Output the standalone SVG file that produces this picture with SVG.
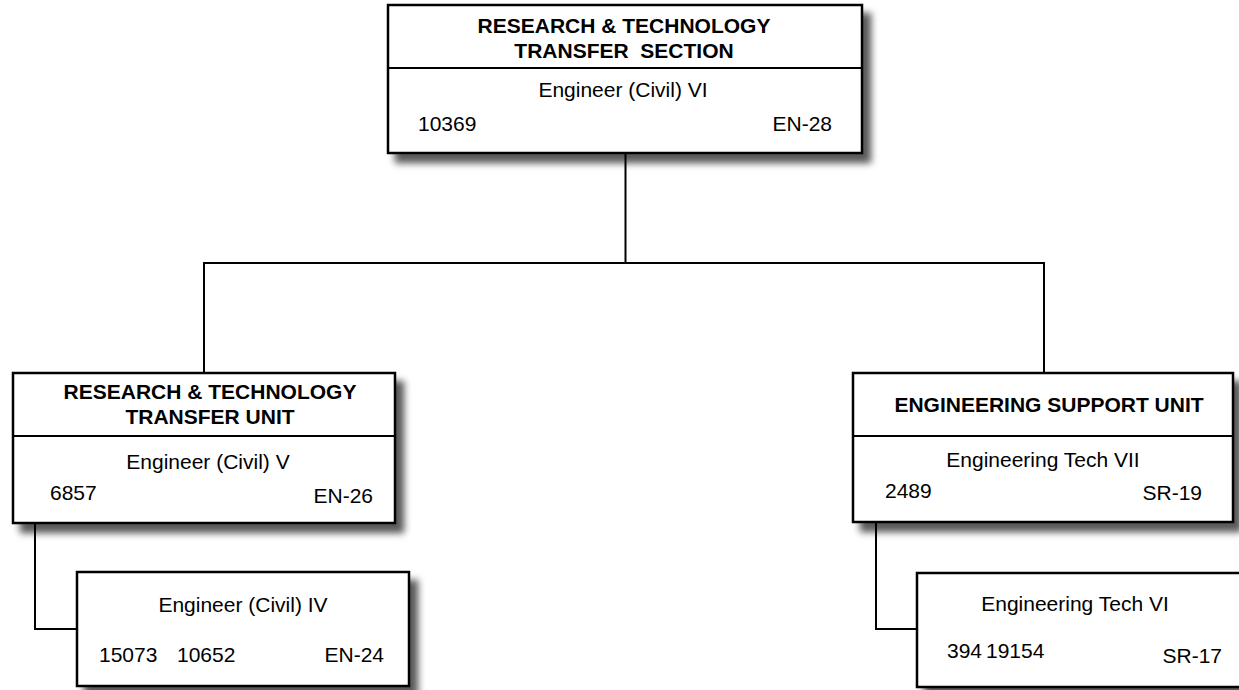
<svg xmlns="http://www.w3.org/2000/svg" width="1239" height="690" viewBox="0 0 1239 690">
<style>
.box{fill:#fff;stroke:#000;stroke-width:2.5;filter:url(#sh)}
.div{stroke:#000;stroke-width:2}
.t{font-family:"Liberation Sans",Arial,sans-serif;font-size:21px;fill:#000}
.b{font-weight:bold;font-size:21px}
.c{text-anchor:middle}
.e{text-anchor:end}
.conn{fill:none;stroke:#000;stroke-width:2}
</style>
<defs>
<filter id="sh" x="-10%" y="-10%" width="130%" height="140%">
<feDropShadow dx="8" dy="9" stdDeviation="3.5" flood-color="#000" flood-opacity="0.65"/>
</filter>
</defs>
<rect width="1239" height="690" fill="#fff"/>
<g id="connectors">
<path class="conn" d="M625.5 153 V263 M204 373 V263 H1044 V373"/>
<path class="conn" d="M35 523 V629 H77"/>
<path class="conn" d="M876 522 V629 H917"/>
</g>
<g id="section">
<rect class="box" x="388" y="5" width="474" height="148"/>
<line class="div" x1="388" y1="68" x2="862" y2="68"/>
<text class="t b c" x="624" y="33">RESEARCH &amp; TECHNOLOGY</text>
<text class="t b c" x="624" y="58" xml:space="preserve">TRANSFER  SECTION</text>
<text class="t c" x="623" y="97">Engineer (Civil) VI</text>
<text class="t" x="418" y="131">10369</text>
<text class="t e" x="832" y="131">EN-28</text>
</g>
<g id="rtt-unit">
<rect class="box" x="13" y="373" width="382" height="150"/>
<line class="div" x1="13" y1="436" x2="395" y2="436"/>
<text class="t b c" x="210" y="399">RESEARCH &amp; TECHNOLOGY</text>
<text class="t b c" x="210" y="424">TRANSFER UNIT</text>
<text class="t c" x="208" y="469">Engineer (Civil) V</text>
<text class="t" x="50" y="500">6857</text>
<text class="t e" x="373" y="503">EN-26</text>
</g>
<g id="eng-civil-iv">
<rect class="box" x="77" y="572" width="332" height="114"/>
<text class="t c" x="243" y="612">Engineer (Civil) IV</text>
<text class="t" x="99" y="662">15073</text>
<text class="t" x="177" y="662">10652</text>
<text class="t e" x="384" y="662">EN-24</text>
</g>
<g id="eng-support-unit">
<rect class="box" x="853" y="373" width="380" height="149"/>
<line class="div" x1="853" y1="436" x2="1233" y2="436"/>
<text class="t b c" x="1049" y="412">ENGINEERING SUPPORT UNIT</text>
<text class="t c" x="1043" y="467">Engineering Tech VII</text>
<text class="t" x="885" y="498">2489</text>
<text class="t e" x="1202" y="500">SR-19</text>
</g>
<g id="eng-tech-vi">
<rect class="box" x="917" y="573" width="334" height="114"/>
<text class="t c" x="1075" y="611">Engineering Tech VI</text>
<text class="t" x="947" y="658">394</text>
<text class="t" x="986" y="658">19154</text>
<text class="t e" x="1222" y="663">SR-17</text>
</g>
</svg>
